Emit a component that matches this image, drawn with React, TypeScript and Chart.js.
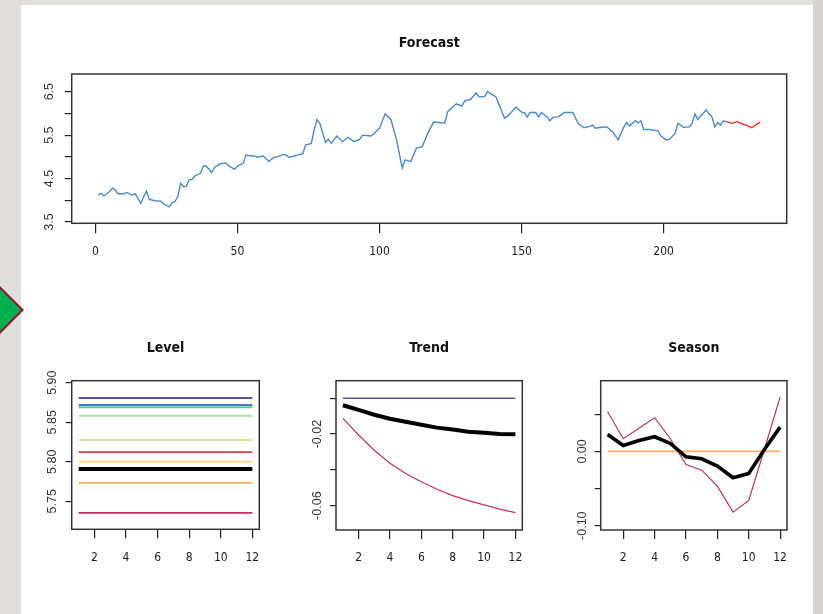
import React, { useEffect, useRef } from "react";
import { Chart, registerables } from "chart.js";
Chart.register(...registerables);

const NARROW = "'Liberation Sans Narrow', 'DejaVu Sans Condensed', 'Arial Narrow', sans-serif";
const SANS = "'Liberation Sans', Arial, sans-serif";

// ---------- Forecast panel data ----------
const obsT = [1, 2, 3, 5, 6, 7, 8, 10, 11, 12, 13, 14, 16, 17, 18, 19, 21, 23, 24, 26, 27, 28, 29, 30, 31, 32, 33, 34, 35, 37, 38, 39, 41, 42, 44, 46, 47, 49, 50, 52, 53, 55, 56, 57, 59, 60, 61, 63, 64, 66, 67, 68, 70, 71, 73, 74, 76, 77, 78, 79, 81, 82, 83, 85, 87, 89, 91, 93, 94, 97, 98, 100, 102, 104, 105, 106, 108, 109, 111, 113, 115, 117, 119, 123, 124, 127, 129, 130, 132, 134, 135, 137, 138, 140, 141, 144, 145, 148, 150, 151, 152, 153, 155, 156, 157, 159, 160, 161, 163, 165, 168, 170, 172, 174, 175, 176, 178, 180, 182, 184, 186, 187, 188, 190, 191, 192, 193, 195, 198, 199, 201, 202, 204, 205, 207, 209, 210, 211, 212, 213, 215, 216, 217, 218, 219, 220, 221, 222];
const obsV = [4.12, 4.16, 4.10, 4.20, 4.28, 4.24, 4.15, 4.15, 4.18, 4.15, 4.12, 4.15, 3.93, 4.08, 4.21, 4.02, 3.99, 3.98, 3.92, 3.85, 3.94, 3.97, 4.08, 4.39, 4.31, 4.32, 4.47, 4.48, 4.56, 4.62, 4.79, 4.79, 4.64, 4.76, 4.84, 4.86, 4.79, 4.71, 4.79, 4.85, 5.04, 5.02, 5.02, 4.99, 5.02, 4.97, 4.89, 4.99, 5.00, 5.05, 5.05, 4.99, 5.02, 5.04, 5.07, 5.27, 5.31, 5.62, 5.86, 5.77, 5.33, 5.40, 5.31, 5.48, 5.35, 5.45, 5.35, 5.40, 5.50, 5.48, 5.53, 5.66, 5.99, 5.86, 5.63, 5.39, 4.74, 4.93, 4.89, 5.20, 5.23, 5.54, 5.80, 5.78, 6.04, 6.22, 6.17, 6.29, 6.32, 6.47, 6.38, 6.39, 6.50, 6.42, 6.38, 5.89, 5.93, 6.14, 6.03, 6.02, 5.92, 6.02, 6.02, 5.92, 6.02, 5.92, 5.83, 5.91, 5.92, 6.02, 6.02, 5.76, 5.67, 5.70, 5.73, 5.66, 5.68, 5.69, 5.58, 5.39, 5.69, 5.79, 5.71, 5.83, 5.78, 5.83, 5.63, 5.63, 5.60, 5.48, 5.39, 5.40, 5.54, 5.77, 5.68, 5.69, 5.77, 5.99, 5.86, 5.94, 6.08, 5.99, 5.92, 5.69, 5.79, 5.73, 5.83, 5.81];
const fcT = [222, 224, 226, 228, 229, 231, 232, 234];
const fcV = [5.81, 5.77, 5.81, 5.75, 5.73, 5.67, 5.72, 5.80];
const forecastXTicks = [0, 50, 100, 150, 200];
const forecastXLabels = ["0", "50", "100", "150", "200"];
const forecastYTicks = [3.5, 4.0, 4.5, 5.0, 5.5, 6.0, 6.5];
const forecastYLabels = ["3.5", "", "4.5", "", "5.5", "", "6.5"];

// ---------- Component panels data ----------
const horizon = [1, 2, 3, 4, 5, 6, 7, 8, 9, 10, 11, 12];
const horizonTicks = [2, 4, 6, 8, 10, 12];
const horizonLabels = ["2", "4", "6", "8", "10", "12"];

const levelMean = 5.7908;
const levelValues = [5.8806, 5.8718, 5.8689, 5.8582, 5.8275, 5.8123, 5.8, 5.7734, 5.7354];
const levelColors = ["#5e4fa2", "#3f86c0", "#66c2a5", "#abdda4", "#e3e29a", "#d53e4f", "#fdd98e", "#fdae61", "#c02e5e"];
const levelYTicks = [5.75, 5.8, 5.85, 5.9];
const levelYLabels = ["5.75", "5.80", "5.85", "5.90"];

const trendUpper = [0, 0, 0, 0, 0, 0, 0, 0, 0, 0, 0, 0];
const trendMean = [-0.0039, -0.0065, -0.0092, -0.0114, -0.0131, -0.0148, -0.0164, -0.0174, -0.0187, -0.0192, -0.0199, -0.0201];
const trendLower = [-0.0112, -0.0205, -0.029, -0.0363, -0.042, -0.0466, -0.0508, -0.0544, -0.0572, -0.0596, -0.0619, -0.0639];
const trendYTicks = [-0.06, -0.04, -0.02, 0];
const trendYLabels = ["-0.06", "", "-0.02", ""];

const seasonRef = [0, 0, 0, 0, 0, 0, 0, 0, 0, 0, 0, 0];
const seasonMean = [0.0229, 0.0081, 0.0148, 0.0198, 0.0108, -0.0072, -0.0099, -0.0198, -0.0355, -0.0297, 0.0027, 0.0328];
const seasonPath = [0.0535, 0.0171, 0.0314, 0.0454, 0.0171, -0.0175, -0.0252, -0.0468, -0.0818, -0.066, 0.0029, 0.0732];
const seasonYTicks = [-0.1, -0.05, 0, 0.05];
const seasonYLabels = ["-0.10", "", "0.00", ""];

// ---------- helpers ----------
const framePlugin = {
  id: "frame",
  afterDraw(chart: any) {
    const { ctx, chartArea: a } = chart;
    ctx.save();
    ctx.strokeStyle = "#333";
    ctx.lineWidth = 1.5;
    ctx.strokeRect(a.left, a.top, a.right - a.left, a.bottom - a.top);
    ctx.restore();
  },
};

type AxisSpec = {
  min: number;
  max: number;
  ticks: number[];
  labels: string[];
  size: number;
  tickLength: number;
  padding: number;
};

function xAxis(s: AxisSpec) {
  return {
    type: "linear",
    position: "bottom",
    min: s.min,
    max: s.max,
    afterBuildTicks: (sc: any) => {
      sc.ticks = s.ticks.map((v) => ({ value: v }));
    },
    afterFit: (sc: any) => {
      sc.height = s.size;
    },
    grid: { drawOnChartArea: false, drawTicks: true, tickLength: s.tickLength, tickColor: "#222", lineWidth: 1.2, tickWidth: 1.2 },
    border: { display: false },
    ticks: {
      autoSkip: false,
      maxRotation: 0,
      minRotation: 0,
      padding: s.padding,
      color: "#1a1a1a",
      font: { family: NARROW, size: 12 },
      callback: (_v: any, i: number) => s.labels[i],
    },
  };
}

function yAxis(s: AxisSpec) {
  return {
    type: "linear",
    position: "left",
    min: s.min,
    max: s.max,
    afterBuildTicks: (sc: any) => {
      sc.ticks = s.ticks.map((v) => ({ value: v }));
    },
    afterFit: (sc: any) => {
      sc.width = s.size;
    },
    grid: { drawOnChartArea: false, drawTicks: true, tickLength: s.tickLength, tickColor: "#222", lineWidth: 1.2, tickWidth: 1.2 },
    border: { display: false },
    ticks: {
      autoSkip: false,
      minRotation: 90,
      maxRotation: 90,
      crossAlign: "center",
      padding: s.padding,
      color: "#333",
      font: { family: SANS, size: 12.5 },
      callback: (_v: any, i: number) => s.labels[i],
    },
  };
}

function line(xs: number[], ys: number[], color: string, width: number) {
  return {
    data: xs.map((x, i) => ({ x, y: ys[i] })),
    borderColor: color,
    backgroundColor: color,
    borderWidth: width,
    pointRadius: 0,
    tension: 0,
    fill: false,
  };
}

function baseOptions(title: string, titlePad: { top: number; bottom: number }, padRight: number, x: any, y: any) {
  return {
    responsive: false,
    animation: false,
    events: [],
    layout: { padding: { left: 0, right: padRight, top: 0, bottom: 0 } },
    plugins: {
      legend: { display: false },
      tooltip: { enabled: false },
      title: {
        display: true,
        text: title,
        fullSize: false,
        color: "#111",
        font: { family: NARROW, size: 14, weight: "bold", lineHeight: 1.2 },
        padding: titlePad,
      },
    },
    scales: { x, y },
  };
}

function forecastConfig(): any {
  return {
    type: "line",
    data: {
      datasets: [line(obsT, obsV, "#4a8ac6", 1.4), line(fcT, fcV, "#f02a2a", 1.4)],
    },
    options: baseOptions(
      "Forecast",
      { top: 29.6, bottom: 22.6 },
      26.3,
      xAxis({ min: -8.32, max: 243.3, ticks: forecastXTicks, labels: forecastXLabels, size: 46.7, tickLength: 10, padding: 11 }),
      yAxis({ min: 3.47, max: 6.907, ticks: forecastYTicks, labels: forecastYLabels, size: 50.7, tickLength: 7, padding: 6 })
    ),
    plugins: [framePlugin],
  };
}

function levelConfig(): any {
  const ds: any[] = [line(horizon, horizon.map(() => levelMean), "#000", 4)];
  levelValues.forEach((v, i) => ds.push(line(horizon, horizon.map(() => v), levelColors[i], 1.8)));
  return {
    type: "line",
    data: { datasets: ds },
    options: baseOptions(
      "Level",
      { top: 39.9, bottom: 24 },
      21.7,
      xAxis({ min: 0.56, max: 12.44, ticks: horizonTicks, labels: horizonLabels, size: 70.7, tickLength: 9, padding: 12 }),
      yAxis({ min: 5.7146, max: 5.9025, ticks: levelYTicks, labels: levelYLabels, size: 50.7, tickLength: 6, padding: 1 })
    ),
    plugins: [framePlugin],
  };
}

function trendConfig(): any {
  return {
    type: "line",
    data: {
      datasets: [
        line(horizon, trendMean, "#000", 4),
        line(horizon, trendUpper, "#5e4fa2", 1.5),
        line(horizon, trendLower, "#c0306a", 1.2),
      ],
    },
    options: baseOptions(
      "Trend",
      { top: 39.9, bottom: 24 },
      22.7,
      xAxis({ min: 0.56, max: 12.44, ticks: horizonTicks, labels: horizonLabels, size: 70, tickLength: 9, padding: 12 }),
      yAxis({ min: -0.0736, max: 0.00983, ticks: trendYTicks, labels: trendYLabels, size: 51, tickLength: 6, padding: -2 })
    ),
    plugins: [framePlugin],
  };
}

function seasonConfig(): any {
  return {
    type: "line",
    data: {
      datasets: [
        line(horizon, seasonMean, "#000", 3.6),
        line(horizon, seasonRef, "#fdae61", 1.8),
        line(horizon, seasonPath, "#b8306a", 1.2),
      ],
    },
    options: baseOptions(
      "Season",
      { top: 39.9, bottom: 24 },
      23,
      xAxis({ min: 0.56, max: 12.44, ticks: horizonTicks, labels: horizonLabels, size: 70, tickLength: 9, padding: 12 }),
      yAxis({ min: -0.1058, max: 0.0953, ticks: seasonYTicks, labels: seasonYLabels, size: 50.7, tickLength: 6, padding: -2 })
    ),
    plugins: [framePlugin],
  };
}

function Panel({ make, left, top, width, height }: { make: () => any; left: number; top: number; width: number; height: number }) {
  const ref = useRef<HTMLCanvasElement>(null);
  useEffect(() => {
    const chart = new Chart(ref.current as HTMLCanvasElement, make());
    return () => chart.destroy();
  }, []);
  return (
    <canvas
      ref={ref}
      width={width}
      height={height}
      style={{ position: "absolute", left, top, width, height, display: "block" }}
    />
  );
}

export default function App() {
  return (
    <div style={{ position: "fixed", left: 0, top: 0, width: 823, height: 614, overflow: "hidden", background: "#e0dfdb" }}>
      <div style={{ position: "absolute", left: 813, top: 0, width: 10, height: 614, background: "#d4d2cd" }} />
      <div style={{ position: "absolute", left: 21, top: 5, width: 792, height: 609, background: "#ffffff" }} />
      <Panel make={forecastConfig} left={21} top={5} width={792} height={265} />
      <Panel make={levelConfig} left={21} top={300} width={260} height={300} />
      <Panel make={trendConfig} left={285} top={300} width={260} height={300} />
      <Panel make={seasonConfig} left={550} top={300} width={260} height={300} />
      <div
        style={{
          position: "absolute",
          left: -10 - 24,
          top: 310 - 24,
          width: 48,
          height: 48,
          boxSizing: "border-box",
          background: "#00b050",
          border: "2.5px solid #8b1a2e",
          transform: "rotate(45deg)",
        }}
      />
    </div>
  );
}
